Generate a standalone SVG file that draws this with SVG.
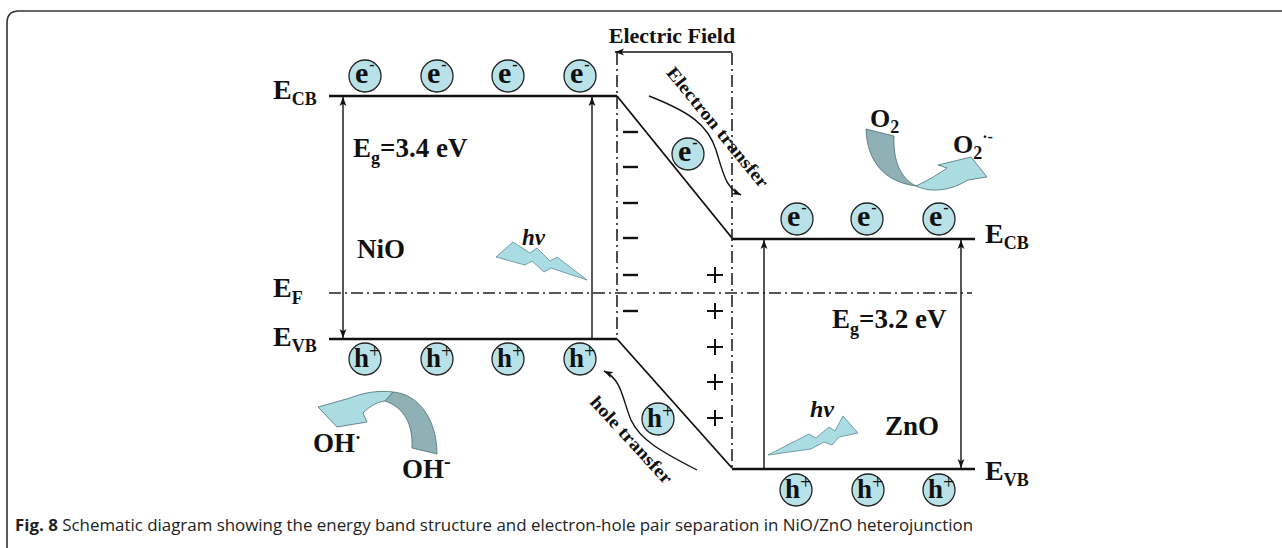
<svg xmlns="http://www.w3.org/2000/svg" width="1282" height="548" viewBox="0 0 1282 548">
<style>
.t{font-family:"Liberation Serif","Times New Roman",serif;font-weight:bold;fill:#111}
.band{stroke:#111;stroke-width:2.5;fill:none}
.diag{stroke:#111;stroke-width:1.8;fill:none}
.thin{stroke:#111;stroke-width:1.4;fill:none}
.dd{stroke:#222;stroke-width:1.6;fill:none;stroke-dasharray:12 4 2 4}
.pc{fill:#b9e2e8;stroke:#222;stroke-width:1.3}
.mark{stroke:#111;stroke-width:2.4}
.bolt{fill:#aadde3;stroke:#5a8a90;stroke-width:0.8}
.adark{fill:#8fb1b5;stroke:#4d6e72;stroke-width:0.8}
.alight{fill:#aadce2;stroke:#4d6e72;stroke-width:0.8}
</style>
<defs>
<marker id="ah" viewBox="0 0 10 10" refX="10" refY="5" markerWidth="9" markerHeight="9" markerUnits="userSpaceOnUse" orient="auto-start-reverse">
<path d="M0,1.2 L10,5 L0,8.8 L2.5,5 z" fill="#111"/>
</marker>
</defs>
<rect width="1282" height="548" fill="#fff"/>
<path d="M7,548 L7,23 Q7,11 19,11 L1282,11" fill="none" stroke="#333" stroke-width="1.6"/>

<g id="connectors">
<line class="band" x1="329" y1="96" x2="617" y2="96"/>
<line class="diag" x1="617" y1="96" x2="732" y2="238"/>
<line class="band" x1="732" y1="239" x2="975" y2="239"/>
<line class="band" x1="329" y1="339" x2="617" y2="339"/>
<line class="diag" x1="617" y1="339" x2="732" y2="468"/>
<line class="band" x1="732" y1="469" x2="975" y2="469"/>
<line class="dd" x1="329" y1="293" x2="972" y2="293"/>
<line class="dd" x1="617" y1="53" x2="617" y2="339"/>
<line class="dd" x1="732" y1="53" x2="732" y2="468"/>
<line class="thin" x1="732" y1="52" x2="615" y2="52" marker-end="url(#ah)"/>
<line class="thin" x1="343" y1="97" x2="343" y2="338" marker-start="url(#ah)" marker-end="url(#ah)"/>
<line class="thin" x1="592" y1="339" x2="592" y2="97" marker-end="url(#ah)"/>
<line class="thin" x1="764" y1="469" x2="764" y2="240" marker-end="url(#ah)"/>
<line class="thin" x1="961" y1="240" x2="961" y2="468" marker-start="url(#ah)" marker-end="url(#ah)"/>
<path class="thin" d="M649,96 C690,112 708,125 716,150 C724,176 726,188 741,195" marker-end="url(#ah)"/>
<path class="thin" d="M697,470 C662,452 640,440 631,420 C622,398 622,380 604,371" marker-end="url(#ah)"/>
</g>

<g id="labels-left">
<text class="t" x="273" y="99" font-size="28">E<tspan font-size="18" dy="6">CB</tspan></text>
<text class="t" x="273" y="297" font-size="28">E<tspan font-size="18" dy="7">F</tspan></text>
<text class="t" x="273" y="346" font-size="28">E<tspan font-size="18" dy="6">VB</tspan></text>
<text class="t" x="353" y="157" font-size="27">E<tspan font-size="18" dy="7">g</tspan><tspan dy="-7">=3.4 eV</tspan></text>
<text class="t" x="357" y="258" font-size="27">NiO</text>
</g>

<g id="labels-right">
<text class="t" x="985" y="243" font-size="28">E<tspan font-size="18" dy="6">CB</tspan></text>
<text class="t" x="985" y="480" font-size="28">E<tspan font-size="18" dy="6">VB</tspan></text>
<text class="t" x="832" y="328" font-size="27">E<tspan font-size="18" dy="7">g</tspan><tspan dy="-7">=3.2 eV</tspan></text>
<text class="t" x="885" y="435" font-size="27">ZnO</text>
</g>

<g id="electric-field">
<text class="t" x="672" y="43" font-size="22" text-anchor="middle">Electric Field</text>
<g class="mark">
<line x1="623" y1="132" x2="638" y2="132"/>
<line x1="623" y1="167" x2="638" y2="167"/>
<line x1="623" y1="203" x2="638" y2="203"/>
<line x1="623" y1="238" x2="638" y2="238"/>
<line x1="623" y1="275" x2="638" y2="275"/>
<line x1="623" y1="311" x2="638" y2="311"/>
</g>
<g stroke="#111" stroke-width="2">
<path d="M707,275 h16 M715,267 v16"/>
<path d="M707,311 h16 M715,303 v16"/>
<path d="M707,347 h16 M715,339 v16"/>
<path d="M707,382 h16 M715,374 v16"/>
<path d="M707,418 h16 M715,410 v16"/>
</g>
</g>

<g id="transfer-labels">
<text class="t" font-size="18" text-anchor="middle" textLength="150" lengthAdjust="spacingAndGlyphs" transform="translate(713,131) rotate(50.8)">Electron transfer</text>
<text class="t" font-size="18" text-anchor="middle" textLength="112" lengthAdjust="spacingAndGlyphs" transform="translate(627,444) rotate(47.4)">hole transfer</text>
</g>

<g id="electrons">
<circle class="pc" cx="365" cy="76" r="16"/><text class="t" x="355" y="83" font-size="30">e<tspan font-size="16" dx="1" dy="-13">-</tspan></text>
<circle class="pc" cx="437" cy="76" r="16"/><text class="t" x="427" y="83" font-size="30">e<tspan font-size="16" dx="1" dy="-13">-</tspan></text>
<circle class="pc" cx="508" cy="76" r="16"/><text class="t" x="498" y="83" font-size="30">e<tspan font-size="16" dx="1" dy="-13">-</tspan></text>
<circle class="pc" cx="580" cy="76" r="16"/><text class="t" x="570" y="83" font-size="30">e<tspan font-size="16" dx="1" dy="-13">-</tspan></text>
<circle class="pc" cx="688" cy="154" r="16"/><text class="t" x="678" y="161" font-size="30">e<tspan font-size="16" dx="1" dy="-13">-</tspan></text>
<circle class="pc" cx="797" cy="219" r="16"/><text class="t" x="787" y="226" font-size="30">e<tspan font-size="16" dx="1" dy="-13">-</tspan></text>
<circle class="pc" cx="867" cy="219" r="16"/><text class="t" x="857" y="226" font-size="30">e<tspan font-size="16" dx="1" dy="-13">-</tspan></text>
<circle class="pc" cx="939" cy="219" r="16"/><text class="t" x="929" y="226" font-size="30">e<tspan font-size="16" dx="1" dy="-13">-</tspan></text>
</g>

<g id="holes">
<circle class="pc" cx="365" cy="359" r="16"/><text class="t" x="354" y="367" font-size="27">h<tspan font-size="20" font-weight="normal" dy="-9">+</tspan></text>
<circle class="pc" cx="437" cy="359" r="16"/><text class="t" x="426" y="367" font-size="27">h<tspan font-size="20" font-weight="normal" dy="-9">+</tspan></text>
<circle class="pc" cx="508" cy="359" r="16"/><text class="t" x="497" y="367" font-size="27">h<tspan font-size="20" font-weight="normal" dy="-9">+</tspan></text>
<circle class="pc" cx="580" cy="359" r="16"/><text class="t" x="569" y="367" font-size="27">h<tspan font-size="20" font-weight="normal" dy="-9">+</tspan></text>
<circle class="pc" cx="658" cy="419" r="16"/><text class="t" x="647" y="427" font-size="27">h<tspan font-size="20" font-weight="normal" dy="-9">+</tspan></text>
<circle class="pc" cx="796" cy="490" r="16"/><text class="t" x="785" y="498" font-size="27">h<tspan font-size="20" font-weight="normal" dy="-9">+</tspan></text>
<circle class="pc" cx="868" cy="490" r="16"/><text class="t" x="857" y="498" font-size="27">h<tspan font-size="20" font-weight="normal" dy="-9">+</tspan></text>
<circle class="pc" cx="939" cy="490" r="16"/><text class="t" x="928" y="498" font-size="27">h<tspan font-size="20" font-weight="normal" dy="-9">+</tspan></text>
</g>

<g id="light-nio">
<path class="bolt" d="M496,257 L513,242 L530,253 L537,248 L550,261 L557,257 L587,280 L551,268 L544,272 L532,261 L525,265 Z"/>
<text class="t" x="522" y="245" font-size="23" font-style="italic">hv</text>
</g>
<g id="light-zno">
<path class="bolt" d="M768,455 L809,434 L816,438 L829,427 L835,431 L843,416 L858,433 L839,437 L832,445 L824,442 L811,449 Z"/>
<text class="t" x="810" y="417" font-size="24" font-style="italic">hv</text>
</g>

<g id="o2-reaction">
<path class="adark" d="M866,129 L894,136 C893,160 900,178 916,186 C885,182 867,162 866,129 Z"/>
<path class="alight" d="M916,186 C929,180 940,173 947,168 L938,165 L971,157 L987,177 L968,180 C950,191 931,193 916,186 Z"/>
<text class="t" x="870" y="127" font-size="26">O<tspan font-size="18" dy="6">2</tspan></text>
<text class="t" x="953" y="153" font-size="26">O<tspan font-size="18" dy="6">2</tspan><tspan font-size="16" dy="-17">·-</tspan></text>
</g>

<g id="oh-reaction">
<path class="adark" d="M393,392 C419,394 437,420 437,454 L412,448 C413,425 405,408 385,401 Z"/>
<path class="alight" d="M393,392 C378,390 362,393 350,398 L318,407 L337,427 L367,422 L363,413 C370,406 377,402 385,401 Z"/>
<text class="t" x="313" y="452" font-size="27">OH<tspan font-size="18" dy="-8">·</tspan></text>
<text class="t" x="402" y="478" font-size="27">OH<tspan font-size="20" dy="-10">-</tspan></text>
</g>

<text x="15" y="531" font-family="'Open Sans','Liberation Sans',sans-serif" font-size="16" fill="#222" textLength="958" lengthAdjust="spacingAndGlyphs"><tspan font-weight="bold">Fig. 8</tspan> Schematic diagram showing the energy band structure and electron-hole pair separation in NiO/ZnO heterojunction</text>
</svg>
